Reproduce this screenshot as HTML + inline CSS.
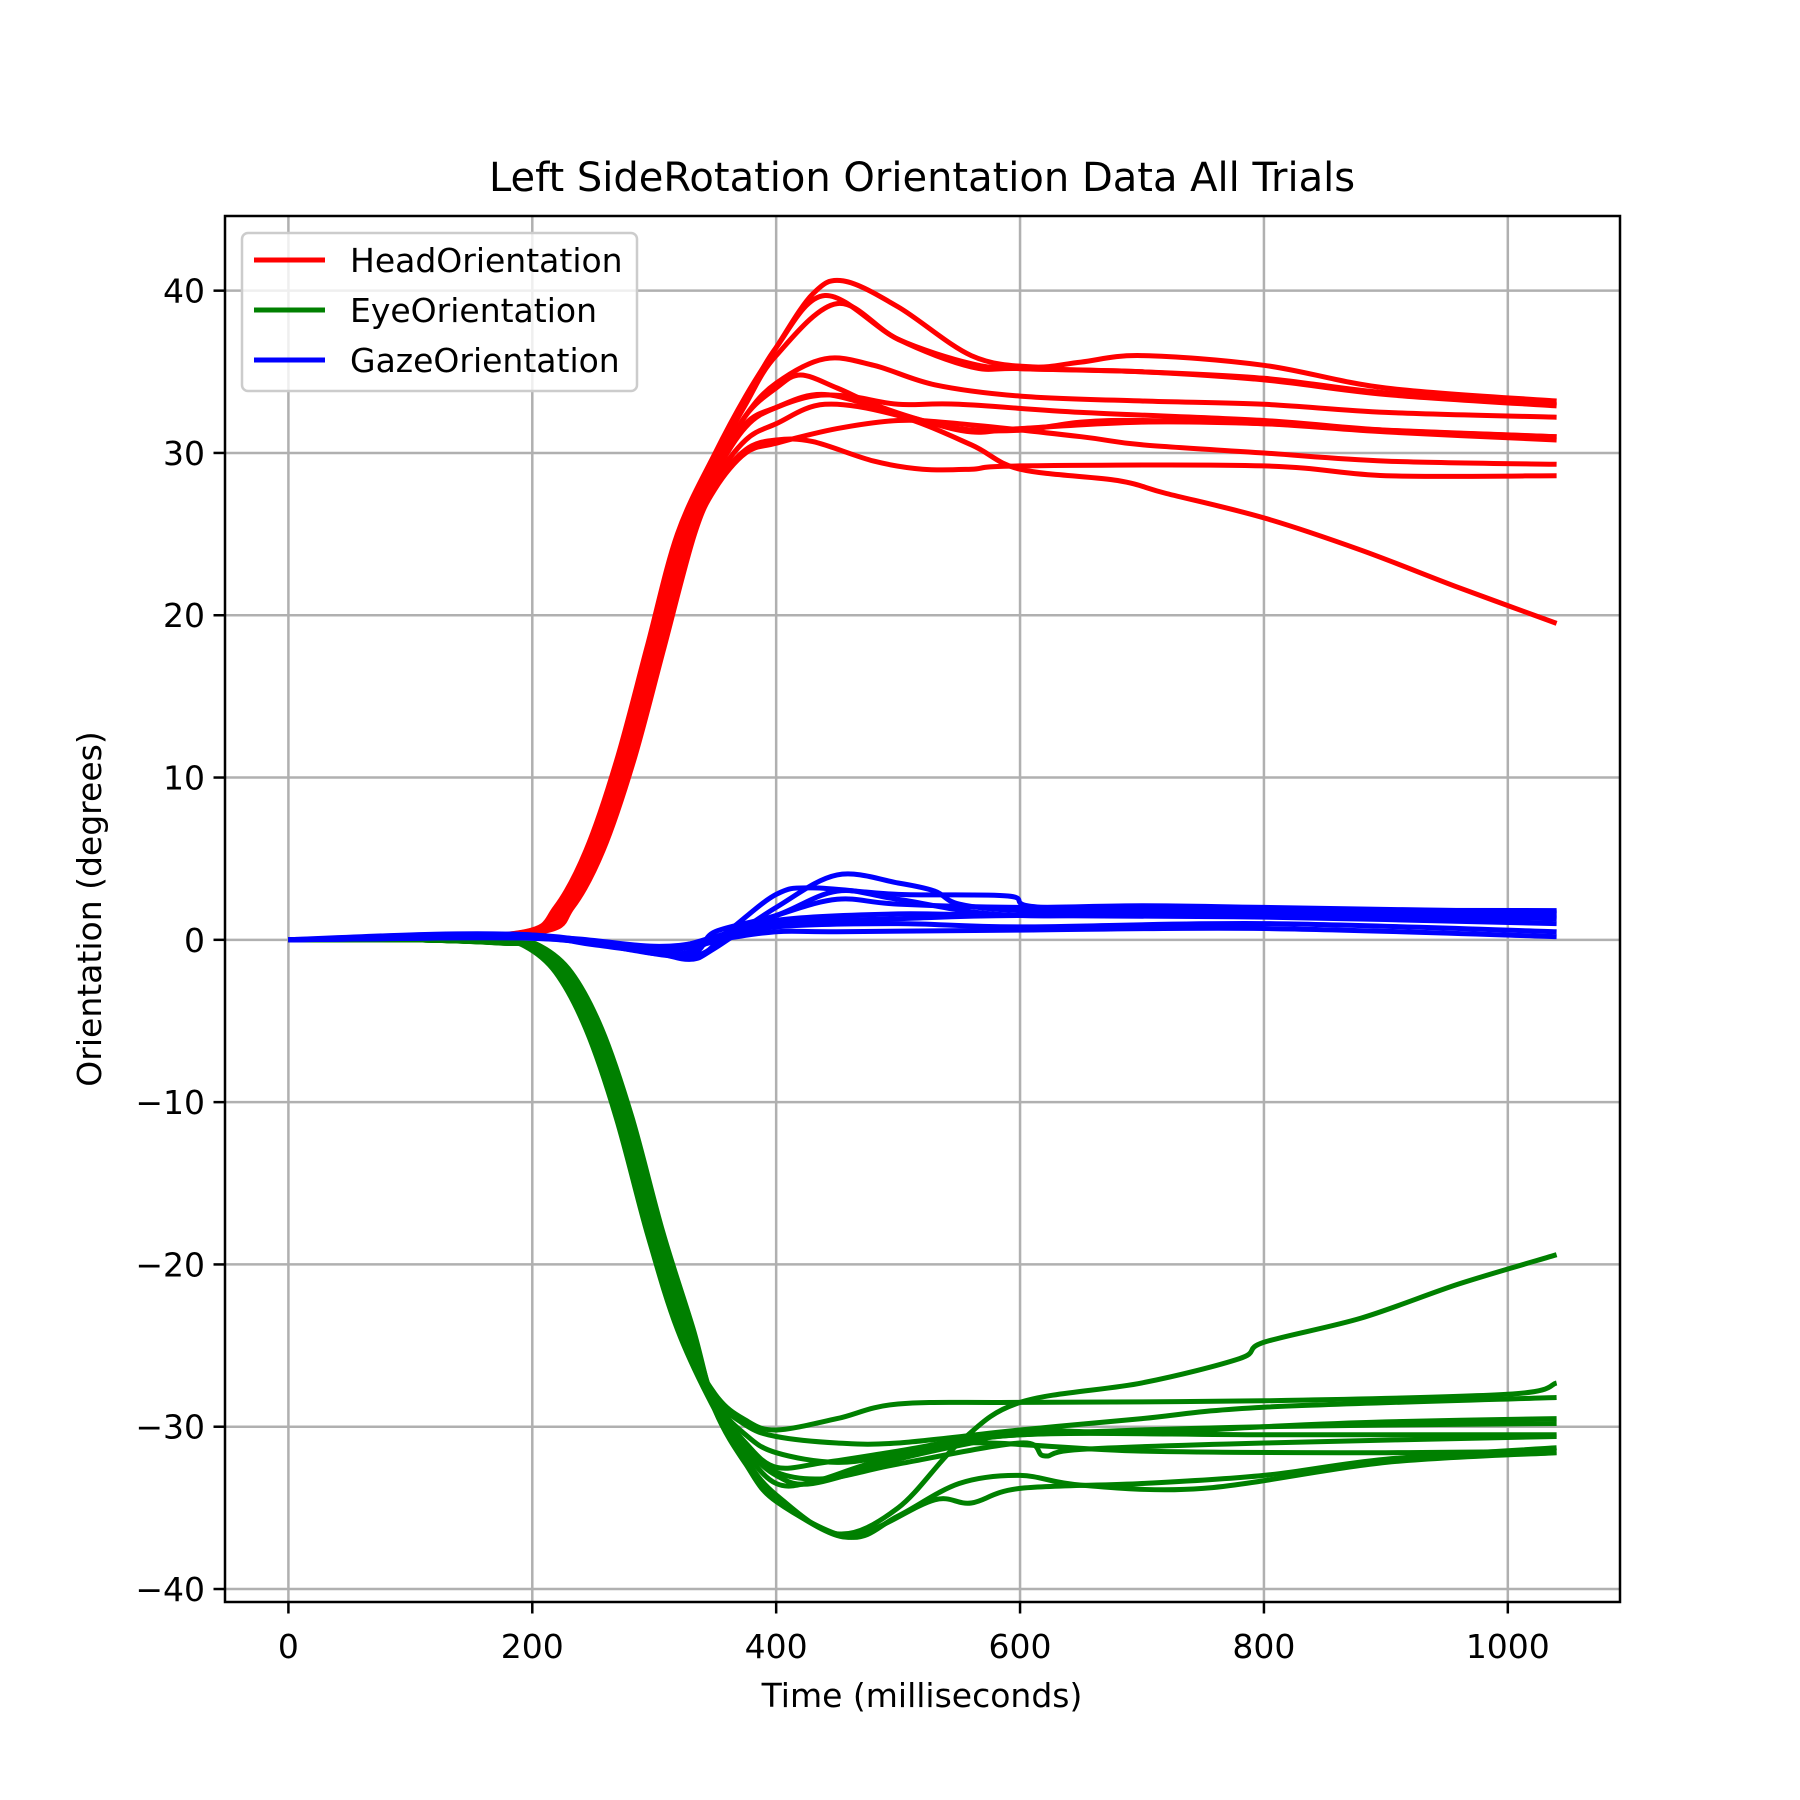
<!DOCTYPE html>
<html><head><meta charset="utf-8"><style>body{margin:0;background:#fff}svg{display:block}text{font-family:"DejaVu Sans","Liberation Sans",sans-serif}</style></head>
<body>
<svg id="chart" width="1800" height="1800" viewBox="0 0 1800 1800" xmlns="http://www.w3.org/2000/svg">
<rect width="1800" height="1800" fill="#fff"/>
<g id="grid"></g><g id="series"></g><g id="axes"></g>
</svg>
<script>
const xTicks=[0,200,400,600,800,1000];
const yTicks=[-40,-30,-20,-10,0,10,20,30,40];
const xlim=[-52,1092],ylim=[-40.8,44.6];
const rise=[[0,0],[100,0.1],[200,0.5],[225,2],[250,5.5],[275,11],[300,18],[325,25]];
const fall=[[0,0],[100,0],[180,-0.2],[200,-0.4],[225,-2],[250,-5.5],[275,-11],[300,-18],[325,-24]];
const headShift=[-6,-5,-3,-1,0,2,3,5,6,8];
const eyeShift=[-6,-4,-3,-1,0,1,3,4,6,7];
const headTrials=[
[[350,30],[375,33.5],[400,36.5],[430,39.8],[455,40.6],[500,39],[560,36],[610,35.3],[650,35.6],[700,36],[800,35.4],[900,34],[1040,33.2]],
[[350,29.8],[375,33.2],[400,36.5],[440,39.7],[500,37],[560,35.3],[600,35.2],[700,35],[800,34.6],[900,33.7],[1040,33.0]],
[[350,29.5],[375,33],[400,36],[450,39.2],[500,37],[560,35.5],[600,35.2],[700,35],[800,34.5],[900,33.6],[1040,32.9]],
[[350,29],[375,32.3],[400,34.3],[440,35.8],[480,35.4],[530,34.2],[600,33.5],[700,33.2],[800,33],[900,32.5],[1040,32.2]],
[[350,29],[375,32.3],[400,34],[420,34.8],[450,34],[480,33],[520,32],[560,31.3],[600,31.5],[700,31.9],[800,31.8],[900,31.4],[1040,31.0]],
[[350,28.8],[375,31.8],[400,32.8],[430,33.5],[460,33.5],[500,33],[550,33],[650,32.5],[800,32],[900,31.4],[1040,31.0]],
[[350,28.7],[375,31.6],[400,32.8],[440,33.6],[500,32.4],[550,31.5],[600,31.4],[650,31.9],[700,32],[800,31.8],[900,31.3],[1040,30.8]],
[[350,28.3],[375,30.8],[400,31.8],[440,33],[500,32.3],[560,30.5],[600,29],[680,28.3],[720,27.5],[800,26],[880,24],[960,21.7],[1040,19.5]],
[[350,28],[375,30.2],[400,30.8],[430,30.7],[480,29.5],[520,29],[560,29],[600,29.2],[800,29.2],[900,28.6],[1040,28.6]],
[[350,27.8],[375,30],[400,30.6],[450,31.5],[500,32],[550,31.8],[650,31],[700,30.5],[800,30],[900,29.5],[1040,29.3]]
];
const eyeTrials=[
[[350,-29],[375,-32],[400,-34.2],[450,-36.6],[500,-35],[550,-31],[600,-28.5],[700,-27.3],[780,-25.8],[800,-24.8],[880,-23.3],[960,-21.2],[1040,-19.4]],
[[350,-28],[375,-29.6],[400,-30.2],[450,-29.5],[500,-28.6],[600,-28.5],[800,-28.4],[1000,-28.0],[1040,-27.3]],
[[350,-28.2],[375,-29.9],[400,-30.6],[450,-31],[500,-31],[600,-30.2],[700,-29.5],[800,-28.8],[1040,-28.2]],
[[350,-28.5],[375,-31],[400,-32.5],[440,-32.2],[500,-31.5],[600,-30.3],[700,-30.4],[800,-30],[900,-29.7],[1040,-29.5]],
[[350,-28.6],[375,-31.3],[400,-33],[430,-33.5],[500,-32],[560,-31],[600,-30.5],[800,-30],[1040,-29.8]],
[[350,-28.4],[375,-30.5],[400,-31.6],[450,-32.2],[500,-31.7],[600,-30.5],[800,-30.5],[1040,-30.5]],
[[350,-29],[375,-32.2],[400,-34.5],[450,-36.7],[480,-36.3],[530,-34.5],[560,-34.7],[600,-33.8],[700,-33.5],[800,-33],[900,-32],[1040,-31.3]],
[[350,-29],[375,-32.3],[400,-34.6],[460,-36.8],[500,-35.5],[550,-33.5],[600,-33],[650,-33.6],[750,-33.8],[900,-32.2],[1040,-31.6]],
[[350,-28.6],[375,-31.2],[400,-32.8],[440,-33.2],[500,-32.3],[600,-31],[620,-31.8],[650,-31.4],[800,-31],[1040,-30.6]],
[[350,-28.8],[375,-31.6],[400,-33.5],[430,-33.4],[480,-32.2],[550,-31],[700,-31.5],[900,-31.6],[1040,-31.5]]
];
const gazeTrials=[
[[0,0],[110,0.1],[200,0.2],[250,-0.3],[300,-0.8],[330,-1.2],[350,-0.5],[400,2],[450,4],[500,3.5],[530,3],[550,2.2],[600,1.8],[700,1.8],[800,1.6],[1040,1.3]],
[[0,0],[120,0.35],[200,0.3],[250,-0.2],[330,-1],[360,0.5],[400,2.8],[430,3.2],[500,2.8],[590,2.7],[620,2],[800,1.9],[1040,1.6]],
[[0,0],[160,0.3],[200,0.2],[300,-0.5],[350,0.2],[400,1.5],[450,2.5],[500,2.2],[600,2],[700,2.1],[800,2],[1040,1.7]],
[[0,0],[200,0.1],[300,-0.6],[350,-0.1],[400,1],[500,1.3],[600,1.5],[800,1.4],[1040,1]],
[[0,0],[200,0.2],[300,-0.4],[350,0],[400,0.5],[450,0.5],[600,0.6],[800,0.7],[1040,0.2]],
[[0,0],[200,0.1],[300,-0.7],[350,0],[400,0.8],[500,1],[600,0.8],[800,1],[1040,0.5]],
[[0,0],[200,0.3],[320,-1],[350,0.5],[400,1.5],[450,3],[500,2.5],[600,1.5],[800,1.8],[1040,1.4]],
[[0,0],[200,0.2],[310,-0.9],[350,0],[400,1.2],[500,1.6],[600,1.5],[700,1.8],[1040,1.8]]
];
const L=225,R=1620,T=216,B=1602;
const sx=v=>L+(v-xlim[0])/(xlim[1]-xlim[0])*(R-L);
const sy=v=>B-(v-ylim[0])/(ylim[1]-ylim[0])*(B-T);
const NS='http://www.w3.org/2000/svg';
function mk(tag,attrs,parent){const e=document.createElementNS(NS,tag);for(const k in attrs)e.setAttribute(k,attrs[k]);parent.appendChild(e);return e;}
function pathD(pts){const p=pts.map(q=>[sx(q[0]),sy(q[1])]);let d='M'+p[0][0].toFixed(1)+','+p[0][1].toFixed(1);
for(let i=0;i<p.length-1;i++){const p0=p[Math.max(0,i-1)],p1=p[i],p2=p[i+1],p3=p[Math.min(p.length-1,i+2)];
const c1=[p1[0]+(p2[0]-p0[0])/6,p1[1]+(p2[1]-p0[1])/6],c2=[p2[0]-(p3[0]-p1[0])/6,p2[1]-(p3[1]-p1[1])/6];
d+='C'+c1[0].toFixed(1)+','+c1[1].toFixed(1)+' '+c2[0].toFixed(1)+','+c2[1].toFixed(1)+' '+p2[0].toFixed(1)+','+p2[1].toFixed(1);}return d;}
const grid=document.getElementById('grid'),ser=document.getElementById('series'),ax=document.getElementById('axes');
xTicks.forEach(t=>{const g=mk('line',{x1:sx(t),x2:sx(t),y1:T,y2:B,stroke:'#b0b0b0','stroke-width':2.5},grid);

});
yTicks.forEach(t=>{const g=mk('line',{x1:L,x2:R,y1:sy(t),y2:sy(t),stroke:'#b0b0b0','stroke-width':2.5},grid);

});
function drawGroup(trials,pre,shifts,color,name){trials.forEach((tr,i)=>{
const s=shifts?shifts[i]:0;
const pts=pre?pre.map(q=>[q[0]<=100?q[0]:q[0]+s,q[1]]).concat(tr):tr;
const p=mk('path',{d:pathD(pts),fill:'none',stroke:color,'stroke-width':5,'stroke-linejoin':'round','stroke-linecap':'butt'},ser);

});}
drawGroup(headTrials,rise,headShift,'#ff0000','head-orientation-line');
drawGroup(eyeTrials,fall,eyeShift,'#008000','eye-orientation-line');
drawGroup(gazeTrials,null,null,'#0000ff','gaze-orientation-line');
const frame=mk('rect',{x:L,y:T,width:R-L,height:B-T,fill:'none',stroke:'#000','stroke-width':2.5},ax);


xTicks.forEach(t=>{mk('line',{x1:sx(t),x2:sx(t),y1:B,y2:B+11.5,stroke:'#000','stroke-width':2.5},ax);
const tx=mk('text',{x:sx(t),y:B+56,'font-size':33,'text-anchor':'middle'},ax);tx.textContent=t;

});
yTicks.forEach(t=>{mk('line',{x1:L-11.5,x2:L,y1:sy(t),y2:sy(t),stroke:'#000','stroke-width':2.5},ax);
const tx=mk('text',{x:L-20,y:sy(t)+12,'font-size':33,'text-anchor':'end'},ax);tx.textContent=t<0?'\u2212'+(-t):t;

});
</script>
<script>
(function(){const s=document.getElementById('chart');const NS='http://www.w3.org/2000/svg';
function t(txt,attrs,name){const e=document.createElementNS(NS,'text');for(const k in attrs)e.setAttribute(k,attrs[k]);e.textContent=txt;


s.appendChild(e);}
t('Left SideRotation Orientation Data All Trials',{x:922,y:191,'font-size':40,'text-anchor':'middle'},'chart-title');
t('Time (milliseconds)',{x:922,y:1707,'font-size':33,'text-anchor':'middle'},'x-axis-title');
t('Orientation (degrees)',{x:101,y:909,'font-size':33,'text-anchor':'middle',transform:'rotate(-90 101 909)'},'y-axis-title');
const box=document.createElementNS(NS,'rect');
const ba={x:242,y:233,width:395,height:158,rx:6,fill:'#fff','fill-opacity':0.8,stroke:'#cccccc','stroke-width':2.5};
for(const k in ba)box.setAttribute(k,ba[k]);


s.appendChild(box);
[['HeadOrientation','#ff0000',260],['EyeOrientation','#008000',310],['GazeOrientation','#0000ff',360]].forEach(([n,c,y])=>{
const l=document.createElementNS(NS,'line');const la={x1:254,x2:325,y1:y,y2:y,stroke:c,'stroke-width':5};
for(const k in la)l.setAttribute(k,la[k]);


s.appendChild(l);
t(n,{x:350,y:y+12,'font-size':33},'legend-entry');});})();
</script>
</body></html>
